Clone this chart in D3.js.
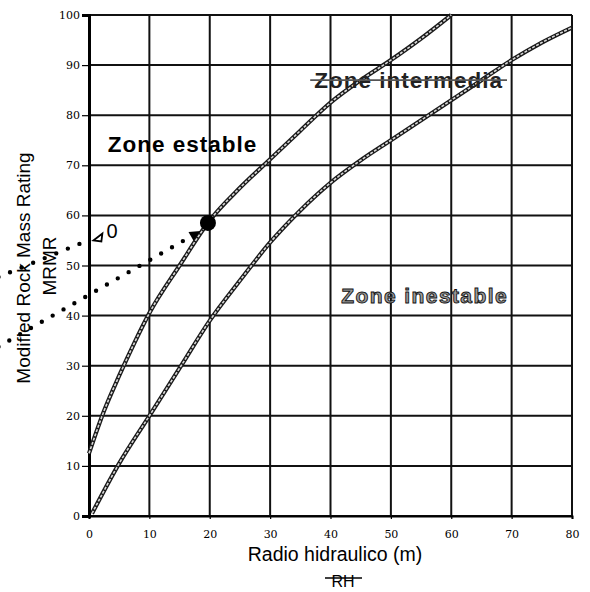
<!DOCTYPE html>
<html>
<head>
<meta charset="utf-8">
<script src="https://cdn.jsdelivr.net/npm/d3@7/dist/d3.min.js"></script>
<style>
  html, body { margin: 0; padding: 0; background: #fff; }
  svg { display: block; }
</style>
</head>
<body>
<svg id="chart" width="590" height="592"></svg>
<script>
// ---- data ----
const xTickValues = [0, 10, 20, 30, 40, 50, 60, 70, 80];
const yTickValues = [0, 10, 20, 30, 40, 50, 60, 70, 80, 90, 100];

// upper boundary (estable / intermedia)
const rhUpper   = [0, 2.5, 5, 7.5, 10, 15, 20, 25, 30, 35, 40, 45, 50, 55, 60];
const mrmrUpper = [12.5, 21, 28, 34.5, 40.5, 50, 59, 65.5, 71.2, 76.9, 82.5, 87, 91, 95.3, 100];

// lower boundary (intermedia / inestable)
const rhLower   = [0.5, 5, 10, 15, 20, 25, 30, 35, 40, 45, 50, 55, 60, 65, 70, 75, 80];
const mrmrLower = [0.5, 10.5, 20, 29.5, 39, 47, 54.6, 61, 66.5, 71, 75, 79, 83, 87, 91, 94.5, 97.5];

// case point
const caseRH = [19.7];
const caseMRMR = [58.5];

// dotted annotation lines (data units)
const arrowLowerRH   = [-15, 17.9];
const arrowLowerMRMR = [33.8, 56.5];
const arrowUpperRH   = [-15, -0.6];
const arrowUpperMRMR = [47.7, 54.8];

// zone labels
const zoneNames = ["Zone estable", "Zone intermedia", "Zone inestable"];
const zoneRH    = [3.1, 37.3, 41.8];
const zoneMRMR  = [72.6, 85.4, 42.6];

// ---- layout ----
const svg = d3.select("#chart");
const x = d3.scaleLinear().domain([0, 80]).range([89, 572]);
const y = d3.scaleLinear().domain([0, 100]).range([516, 15]);

svg.append("rect").attr("width", 590).attr("height", 592).attr("fill", "#fff");

// grid
const grid = svg.append("g");
grid.selectAll("line.v").data(xTickValues).join("line")
  .attr("x1", d => x(d)).attr("x2", d => x(d))
  .attr("y1", y(0)).attr("y2", y(100))
  .attr("stroke", "#111").attr("stroke-width", 2);
grid.selectAll("line.h").data(yTickValues).join("line")
  .attr("x1", x(0)).attr("x2", x(80))
  .attr("y1", d => y(d)).attr("y2", d => y(d))
  .attr("stroke", "#111").attr("stroke-width", 2);

// axes
const yAxis = d3.axisLeft(y).tickValues(yTickValues).tickSize(7).tickPadding(2).tickFormat(d3.format("d"));
const gy = svg.append("g").attr("transform", `translate(${x(0)},0)`).call(yAxis);
gy.select(".domain").attr("stroke", "#000").attr("stroke-width", 3);
gy.selectAll(".tick line").attr("stroke", "#000").attr("stroke-width", 1.2);
gy.selectAll(".tick text").attr("font-family", "DejaVu Serif").attr("font-size", 11).attr("fill", "#000");

const xAxis = d3.axisBottom(x).tickValues(xTickValues).tickSize(3).tickPadding(11).tickFormat(d3.format("d"));
const gx = svg.append("g").attr("transform", `translate(0,${y(0)})`).call(xAxis);
gx.select(".domain").attr("stroke", "#000").attr("stroke-width", 2);
gx.selectAll(".tick line").attr("stroke", "#000").attr("stroke-width", 1.2);
gx.selectAll(".tick text").attr("font-family", "DejaVu Serif").attr("font-size", 11).attr("fill", "#000");

// curves
const line = d3.line().x(d => x(d[0])).y(d => y(d[1])).curve(d3.curveMonotoneX);
const upper = rhUpper.map((v, i) => [v, mrmrUpper[i]]);
const lower = rhLower.map((v, i) => [v, mrmrLower[i]]);
[upper, lower].forEach(pts => {
  svg.append("path").attr("d", line(pts)).attr("fill", "none")
    .attr("stroke", "#1a1a1a").attr("stroke-width", 4.2);
  svg.append("path").attr("d", line(pts)).attr("fill", "none")
    .attr("stroke", "#d8d8d8").attr("stroke-width", 1.6)
    .attr("stroke-dasharray", "3 1.5");
});

// dotted annotation lines
const straight = d3.line().x(d => x(d[0])).y(d => y(d[1]));
const arrowLower = arrowLowerRH.map((v, i) => [v, arrowLowerMRMR[i]]);
const arrowUpper = arrowUpperRH.map((v, i) => [v, arrowUpperMRMR[i]]);
[arrowLower, arrowUpper].forEach(pts => {
  svg.append("path").attr("d", straight(pts)).attr("fill", "none")
    .attr("stroke", "#000").attr("stroke-width", 4.4)
    .attr("stroke-linecap", "round").attr("stroke-dasharray", "0 12.5");
});
// arrow head on lower dotted line
{
  const [x1, y1] = [x(arrowLower[0][0]), y(arrowLower[0][1])];
  const [x2, y2] = [x(arrowLower[1][0]), y(arrowLower[1][1])];
  const ang = Math.atan2(y2 - y1, x2 - x1);
  const tipX = x2 + 4 * Math.cos(ang), tipY = y2 + 4 * Math.sin(ang);
  const L = 11, W = 5;
  const bx = tipX - L * Math.cos(ang), by = tipY - L * Math.sin(ang);
  const px = -Math.sin(ang) * W, py = Math.cos(ang) * W;
  svg.append("path")
    .attr("d", `M${tipX},${tipY}L${bx + px},${by + py}L${bx - px},${by - py}Z`)
    .attr("fill", "#000");
}
// small marker at end of upper dotted line
{
  const tx = x(arrowUpper[1][0]) + 8, ty = y(arrowUpper[1][1]) - 4;
  svg.append("path")
    .attr("d", `M${tx},${ty + 3}L${tx + 9},${ty - 4}L${tx + 8},${ty + 4}Z`)
    .attr("fill", "#fff").attr("stroke", "#000").attr("stroke-width", 1.8);
  svg.append("text").attr("x", tx + 13).attr("y", ty + 1)
    .attr("font-family", "Liberation Sans, Arial, sans-serif").attr("font-size", 20)
    .attr("fill", "#000").text("0");
}

// case point
svg.selectAll("circle.case").data(caseRH).join("circle")
  .attr("cx", d => x(d)).attr("cy", (d, i) => y(caseMRMR[i])).attr("r", 8)
  .attr("fill", "#000");

// zone labels
const zl = svg.append("g");
zl.append("text").attr("x", x(zoneRH[0])).attr("y", y(zoneMRMR[0]))
  .attr("font-family", "Liberation Sans, Arial, sans-serif").attr("font-weight", "bold")
  .attr("font-size", 22.5).attr("letter-spacing", 1).attr("fill", "#000").text(zoneNames[0]);
const zi = zl.append("text").attr("x", x(zoneRH[1])).attr("y", y(zoneMRMR[1]))
  .attr("font-family", "Liberation Sans, Arial, sans-serif").attr("font-weight", "bold")
  .attr("font-size", 22.5).attr("letter-spacing", 1).attr("fill", "#222").text(zoneNames[1]);
{
  const bb = zi.node().getBBox();
  zl.append("line").attr("x1", bb.x - 4).attr("x2", bb.x + bb.width + 4)
    .attr("y1", y(zoneMRMR[1]) - 8).attr("y2", y(zoneMRMR[1]) - 8)
    .attr("stroke", "#555").attr("stroke-width", 1.6);
}
zl.append("text").attr("x", x(zoneRH[2])).attr("y", y(zoneMRMR[2]))
  .attr("font-family", "Liberation Sans, Arial, sans-serif").attr("font-weight", "bold")
  .attr("font-size", 21).attr("letter-spacing", 1.4)
  .attr("fill", "#9a9a9a").attr("stroke", "#111").attr("stroke-width", 0.9)
  .text(zoneNames[2]);

// axis titles
svg.append("text").attr("transform", "translate(30,268) rotate(-90)")
  .attr("text-anchor", "middle").attr("font-family", "Liberation Sans, Arial, sans-serif")
  .attr("font-size", 19).attr("fill", "#000").text("Modified Rock Mass Rating");
svg.append("text").attr("transform", "translate(56,266) rotate(-90)")
  .attr("text-anchor", "middle").attr("font-family", "Liberation Sans, Arial, sans-serif")
  .attr("font-size", 19).attr("fill", "#000").text("MRMR");

svg.append("text").attr("x", 335).attr("y", 561)
  .attr("text-anchor", "middle").attr("font-family", "Liberation Sans, Arial, sans-serif")
  .attr("font-size", 19.5).attr("fill", "#000").text("Radio hidraulico (m)");
svg.append("text").attr("x", 343).attr("y", 587)
  .attr("text-anchor", "middle").attr("font-family", "Liberation Sans, Arial, sans-serif")
  .attr("font-size", 16).attr("fill", "#000").text("RH");
svg.append("line").attr("x1", 325).attr("x2", 362).attr("y1", 578).attr("y2", 578)
  .attr("stroke", "#000").attr("stroke-width", 1.4);
</script>
</body>
</html>
